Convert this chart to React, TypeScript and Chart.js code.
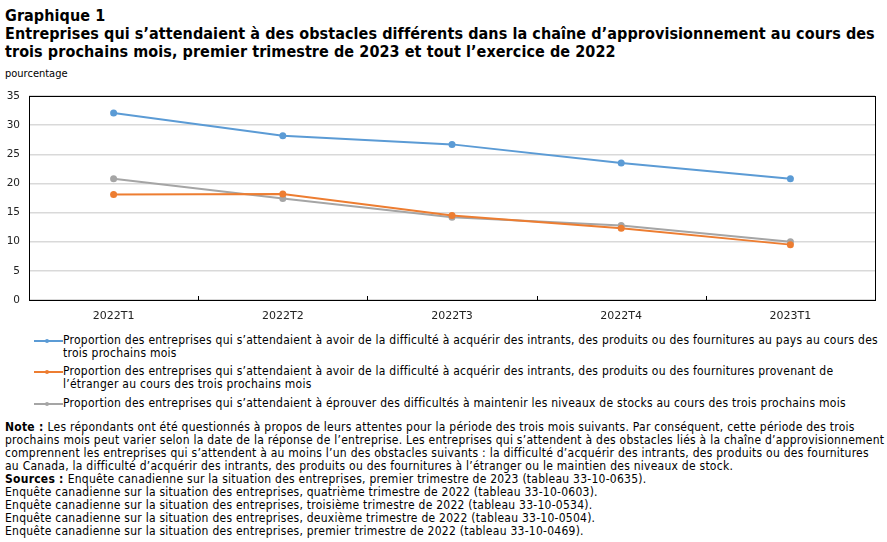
import React, { useEffect, useRef } from "react";
import { Chart, registerables } from "chart.js";

Chart.register(...registerables);

const categories = ["2022T1", "2022T2", "2022T3", "2022T4", "2023T1"];
const domesticValues = [32.1, 28.2, 26.7, 23.5, 20.8];
const foreignValues = [18.1, 18.2, 14.5, 12.3, 9.5];
const inventoryValues = [20.8, 17.4, 14.2, 12.8, 10.0];
const yTicks = [0, 5, 10, 15, 20, 25, 30, 35];

const seriesLabelLines = [
  [
    "Proportion des entreprises qui s’attendaient à avoir de la difficulté à acquérir des intrants, des produits ou des fournitures au pays au cours des",
    "trois prochains mois",
  ],
  [
    "Proportion des entreprises qui s’attendaient à avoir de la difficulté à acquérir des intrants, des produits ou des fournitures provenant de",
    "l’étranger au cours des trois prochains mois",
  ],
  [
    "Proportion des entreprises qui s’attendaient à éprouver des difficultés à maintenir les niveaux de stocks au cours des trois prochains mois",
  ],
];
const seriesColors = ["#5B9BD5", "#ED7D31", "#A5A5A5"];

const titleLines = [
  "Graphique 1",
  "Entreprises qui s’attendaient à des obstacles différents dans la chaîne d’approvisionnement au cours des",
  "trois prochains mois, premier trimestre de 2023 et tout l’exercice de 2022",
];
const yAxisTitle = "pourcentage";

const noteLines = [
  "Les répondants ont été questionnés à propos de leurs attentes pour la période des trois mois suivants. Par conséquent, cette période des trois",
  "prochains mois peut varier selon la date de la réponse de l’entreprise. Les entreprises qui s’attendent à des obstacles liés à la chaîne d’approvisionnement",
  "comprennent les entreprises qui s’attendent à au moins l’un des obstacles suivants : la difficulté d’acquérir des intrants, des produits ou des fournitures",
  "au Canada, la difficulté d’acquérir des intrants, des produits ou des fournitures à l’étranger ou le maintien des niveaux de stock.",
];
const sourceLines = [
  "Enquête canadienne sur la situation des entreprises, premier trimestre de 2023 (tableau 33-10-0635).",
  "Enquête canadienne sur la situation des entreprises, quatrième trimestre de 2022 (tableau 33-10-0603).",
  "Enquête canadienne sur la situation des entreprises, troisième trimestre de 2022 (tableau 33-10-0534).",
  "Enquête canadienne sur la situation des entreprises, deuxième trimestre de 2022 (tableau 33-10-0504).",
  "Enquête canadienne sur la situation des entreprises, premier trimestre de 2022 (tableau 33-10-0469).",
];

const FONT = "'DejaVu Sans Condensed', 'DejaVu Sans', sans-serif";

const framePlugin = {
  id: "frame",
  afterDraw(chart: any) {
    const { ctx, chartArea } = chart;
    const xs = chart.scales.x;
    ctx.save();
    ctx.strokeStyle = "#000";
    ctx.lineWidth = 1;
    ctx.strokeRect(
      Math.round(chartArea.left) + 0.5,
      Math.round(chartArea.top) + 0.5,
      Math.round(chartArea.right - chartArea.left),
      Math.round(chartArea.bottom - chartArea.top)
    );
    ctx.beginPath();
    for (let i = 0; i < categories.length - 1; i++) {
      const x = Math.round((xs.getPixelForValue(i) + xs.getPixelForValue(i + 1)) / 2) + 0.5;
      ctx.moveTo(x, chartArea.bottom);
      ctx.lineTo(x, chartArea.bottom - 4);
    }
    ctx.stroke();
    ctx.restore();
  },
};

export default function App() {
  const canvasRef = useRef<HTMLCanvasElement>(null);

  useEffect(() => {
    const canvas = canvasRef.current;
    if (!canvas) return;
    const allValues = [domesticValues, foreignValues, inventoryValues];
    const chart = new Chart(canvas, {
      type: "line",
      data: {
        labels: categories,
        datasets: allValues.map((vals, i) => ({
          label: seriesLabelLines[i].join(" "),
          data: vals,
          borderColor: seriesColors[i],
          backgroundColor: seriesColors[i],
          pointBackgroundColor: seriesColors[i],
          pointBorderWidth: 0,
          pointRadius: 3.5,
          borderWidth: 2,
          tension: 0,
          fill: false,
        })),
      },
      options: {
        responsive: false,
        animation: false,
        devicePixelRatio: 1,
        layout: { padding: { left: 0, right: 12, top: 12, bottom: 0 } },
        plugins: {
          legend: { display: false },
          tooltip: { enabled: false },
        },
        scales: {
          x: {
            type: "category",
            offset: true,
            grid: { display: false, drawTicks: false },
            border: { display: false },
            ticks: {
              color: "#222",
              font: { family: "'DejaVu Sans', sans-serif", size: 11 },
              padding: 10,
              maxRotation: 0,
            },
            afterFit(scale: any) {
              scale.height = 26;
            },
          },
          y: {
            min: 0,
            max: 35,
            afterBuildTicks(scale: any) {
              scale.ticks = yTicks.map((v) => ({ value: v }));
            },
            grid: { color: "#d9d9d9", drawTicks: false, lineWidth: 1.5 },
            border: { display: false },
            ticks: {
              color: "#222",
              font: { family: "'DejaVu Sans', sans-serif", size: 10.5 },
              padding: 9,
            },
            afterFit(scale: any) {
              scale.width = 29;
              scale.paddingTop = 0;
              scale.paddingBottom = 0;
            },
          },
        },
      },
      plugins: [framePlugin],
    });
    return () => chart.destroy();
  }, []);

  const textStyle: React.CSSProperties = {
    position: "absolute",
    whiteSpace: "nowrap",
    fontFamily: FONT,
    color: "#000",
  };

  return (
    <div style={{ position: "absolute", left: 0, top: 0, width: 887, height: 542, background: "#fff", overflow: "hidden" }}>
      <div style={{ ...textStyle, left: 5, top: 7, fontSize: 16, letterSpacing: "0.08px", fontWeight: "bold", lineHeight: "18px" }}>
        {titleLines.map((l, i) => (
          <div key={i}>{l}</div>
        ))}
      </div>
      <div style={{ ...textStyle, left: 5, top: 67, fontSize: 11, lineHeight: "13px" }}>{yAxisTitle}</div>
      <canvas
        ref={canvasRef}
        width={887}
        height={242}
        style={{ position: "absolute", left: 0, top: 84, width: 887, height: 242 }}
      />
      {seriesLabelLines.map((lines, i) => {
        const tops = [334, 365, 397];
        return (
          <div key={i} style={{ ...textStyle, left: 63, top: tops[i], fontSize: 12, letterSpacing: "0.25px", lineHeight: "13px" }}>
            <div style={{ position: "absolute", left: -29, top: 6, width: 29, height: 2, background: seriesColors[i] }} />
            <div style={{ position: "absolute", left: -18, top: 5, width: 4, height: 4, borderRadius: 2, background: seriesColors[i] }} />
            {lines.map((l, j) => (
              <div key={j}>{l}</div>
            ))}
          </div>
        );
      })}
      <div style={{ ...textStyle, left: 5, top: 421, fontSize: 12, letterSpacing: "0.25px", lineHeight: "13px" }}>
        {noteLines.map((l, i) => (
          <div key={i}>
            {i === 0 ? <b>Note : </b> : null}
            {l}
          </div>
        ))}
        {sourceLines.map((l, i) => (
          <div key={"s" + i}>
            {i === 0 ? <b>Sources : </b> : null}
            {l}
          </div>
        ))}
      </div>
    </div>
  );
}
